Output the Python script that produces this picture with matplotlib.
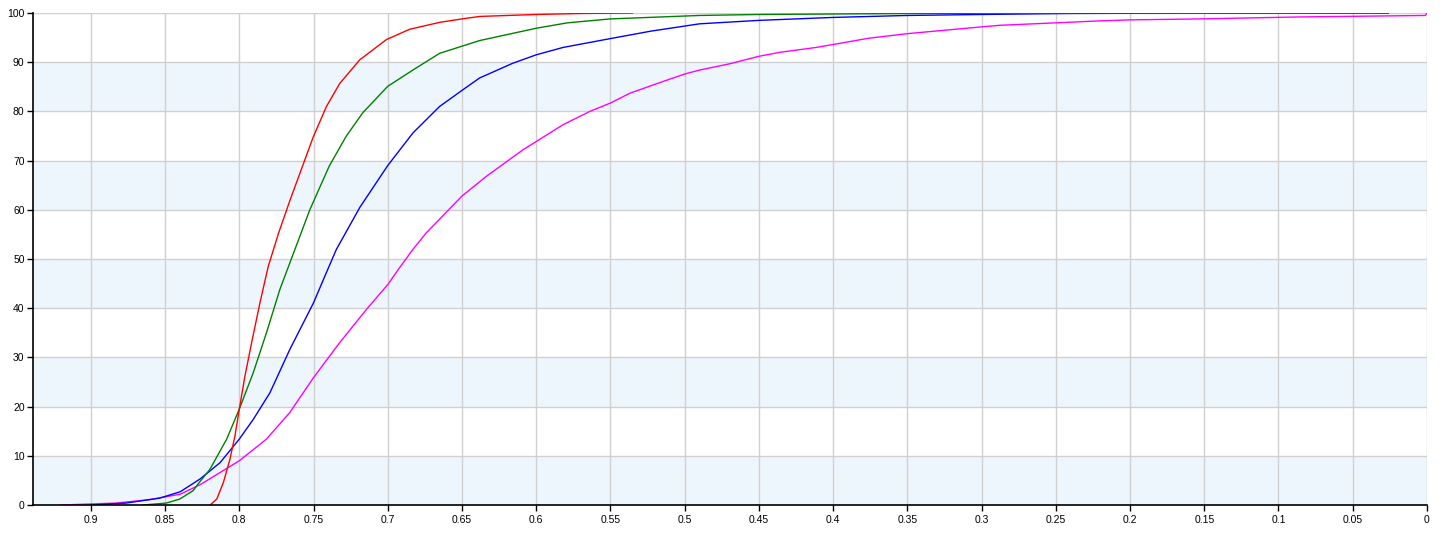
import numpy as np
import matplotlib.pyplot as plt

plt.rcParams['font.family'] = ['Liberation Sans', 'DejaVu Sans']

# x = threshold (axis runs from high to low), y = cumulative percentage
red_x = [0.8197, 0.8152, 0.8107, 0.8063, 0.8029, 0.8, 0.7962, 0.7917, 0.7861, 0.7805,
         0.7735, 0.7659, 0.7502, 0.7413, 0.7323, 0.7188, 0.7009, 0.6852, 0.665, 0.65,
         0.6381, 0.6, 0.57, 0.535]
red_y = [0, 1.2, 4.6, 9.3, 14.1, 19.5, 26.2, 33, 41.1, 48.5,
         55.3, 61.9, 74.8, 81, 85.7, 90.5, 94.6, 96.7, 98.1, 98.8,
         99.3, 99.7, 99.9, 100]

green_x = [0.865, 0.8492, 0.8402, 0.8312, 0.8264, 0.8199, 0.8085, 0.8, 0.7906, 0.7817,
           0.7727, 0.7626, 0.7525, 0.7394, 0.7281, 0.7169, 0.7, 0.6831, 0.6651, 0.6381,
           0.6, 0.579, 0.55, 0.49, 0.45, 0.4, 0.35, 0.25, 0.15, 0.026]
green_y = [0, 0.4, 1.2, 2.9, 4.8, 7.2, 13.4, 19.5, 26.9, 35,
           43.8, 51.9, 60, 68.9, 74.9, 79.7, 85.1, 88.4, 91.8, 94.4,
           96.9, 98, 98.8, 99.5, 99.7, 99.8, 99.9, 100, 100, 100]

blue_x = [0.9, 0.8763, 0.8537, 0.8398, 0.8264, 0.813, 0.8, 0.7906, 0.7794, 0.766,
          0.75, 0.7414, 0.7347, 0.7188, 0.7, 0.6831, 0.6651, 0.6494, 0.6381, 0.6157,
          0.6, 0.5819, 0.55, 0.523, 0.49, 0.45, 0.4, 0.35, 0.3, 0.243, 0.153, 0.026]
blue_y = [0, 0.4, 1.4, 2.7, 5.3, 8.6, 13.4, 17.4, 22.8, 31.6,
          41.1, 47.2, 51.9, 60.5, 69, 75.6, 81, 84.4, 86.8, 89.8,
          91.5, 93, 94.8, 96.3, 97.8, 98.5, 99.1, 99.5, 99.7, 99.9, 100, 100]

mag_x = [0.9203, 0.883, 0.8605, 0.8398, 0.8266, 0.8, 0.7817, 0.766, 0.75,
         0.7324, 0.7145, 0.7, 0.6921, 0.6832, 0.6741, 0.65, 0.6336, 0.6089,
         0.5819, 0.5639, 0.55, 0.5369, 0.5144, 0.5, 0.49, 0.4694, 0.45, 0.4361,
         0.4114, 0.4, 0.3754, 0.35, 0.3103, 0.2878, 0.25, 0.2204, 0.2, 0.153,
         0.0856, 0.001, 0.0]
mag_y = [0, 0.4, 1.1, 2.2, 4.1, 9, 13.4, 18.8, 25.9,
         33, 39.7, 44.8, 48.2, 51.9, 55.3, 62.8, 66.8, 72.2,
         77.3, 80, 81.7, 83.7, 86.1, 87.6, 88.4, 89.7, 91.2, 92,
         93, 93.6, 94.9, 95.8, 96.9, 97.5, 98, 98.4, 98.6, 98.8,
         99.2, 99.5, 100]

y_ticks = list(range(0, 101, 10))
x_ticks = [0.9, 0.85, 0.8, 0.75, 0.7, 0.65, 0.6, 0.55, 0.5, 0.45, 0.4, 0.35,
           0.3, 0.25, 0.2, 0.15, 0.1, 0.05, 0]
x_labels = ['0.9', '0.85', '0.8', '0.75', '0.7', '0.65', '0.6', '0.55', '0.5', '0.45',
            '0.4', '0.35', '0.3', '0.25', '0.2', '0.15', '0.1', '0.05', '0']

fig = plt.figure(figsize=(14.45, 5.35), dpi=100)
ax = fig.add_axes([0.0228, 0.056, 0.9647, 0.9197])

# alternating bands
for lo in range(0, 100, 20):
    ax.axhspan(lo, lo + 10, color='#eef6fd', zorder=0, lw=0)

ax.plot(mag_x, mag_y, color='#ff00ff', lw=1)
ax.plot(blue_x, blue_y, color='#0000ff', lw=1)
ax.plot(green_x, green_y, color='#008000', lw=1)
ax.plot(red_x, red_y, color='#ff0000', lw=1)

ax.set_xlim(0.939, 0)
ax.set_ylim(0, 100)
ax.set_xticks(x_ticks)
ax.set_xticklabels(x_labels)
ax.set_yticks(y_ticks)
ax.grid(True, color='#d0d0d0', lw=1)
ax.set_axisbelow(True)

for s in ['top', 'right']:
    ax.spines[s].set_visible(False)
for s in ['left', 'bottom']:
    ax.spines[s].set_color('black')
    ax.spines[s].set_linewidth(1.2)

ax.tick_params(axis='both', labelsize=7.5, length=4, width=1, colors='black', pad=3)
ax.tick_params(axis='y', pad=2)

fig.savefig('out.png', dpi=100)
